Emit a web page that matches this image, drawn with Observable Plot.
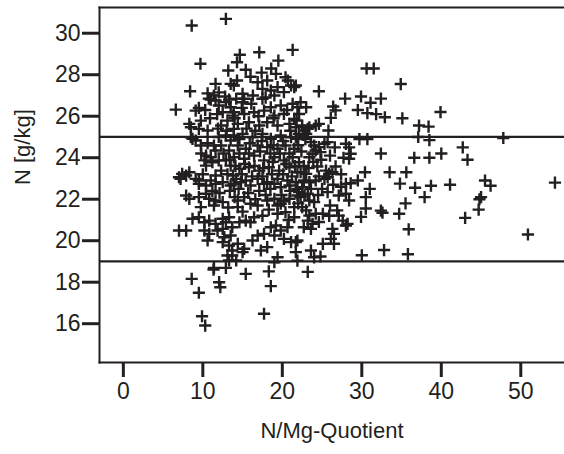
<!DOCTYPE html>
<html><head><meta charset="utf-8">
<script src="https://cdn.jsdelivr.net/npm/d3@7"></script>
<script src="https://cdn.jsdelivr.net/npm/@observablehq/plot@0.6"></script>
<style>body{margin:0;background:#fff;} #chart{width:564px;height:454px;}</style>
</head><body><div id="chart"></div>
<script>
const xTicks = [0, 10, 20, 30, 40, 50];
const yTicks = [16, 18, 20, 22, 24, 26, 28, 30];
const limits = [25, 19];
const xLabel = "N/Mg-Quotient";
const yLabel = "N [g/kg]";

// [N/Mg quotient, N g/kg]
const farRight = [[39.9,26.2],[38.4,25.5],[38.5,24.85],[47.8,24.95],[42.7,24.5],[43.3,23.9],[38.5,24.0],[40.0,24.2],[38.7,22.65],[41.1,22.7],[45.5,22.9],[46.2,22.65],[45.0,22.1],[44.8,22.0],[44.7,21.5],[43.0,21.1],[54.3,22.8],[50.9,20.3],[37.9,22.1]];
const midRight = [[30.6,28.3],[31.5,28.3],[34.9,27.55],[27.9,26.85],[29.9,26.95],[31.1,26.65],[32.4,26.85],[29.5,26.3],[30.7,26.15],[31.8,26.1],[32.9,25.95],[35.1,25.9],[37.2,25.55],[29.7,24.9],[30.7,24.9],[37.1,25.0],[32.4,24.2],[36.6,24.0],[30.4,23.3],[33.5,23.3],[35.6,23.3],[34.8,22.75],[31.0,22.5],[36.7,22.55],[30.5,22.1],[35.5,21.8],[30.5,21.55],[32.4,21.45],[32.6,21.35],[34.7,21.3],[29.9,21.15],[35.9,20.55],[30.0,19.3],[32.8,19.55],[35.8,19.35],[23.2,18.5]];
const middle = [[22.3,26.67],[23.0,26.43],[21.7,27.48],[21.3,29.2],[24.6,27.2],[26.4,26.47],[26.7,26.28],[26.1,25.92],[25.8,25.31],
[21.8,25.79],[22.5,25.55],[22.7,25.31],[23.2,25.39],[23.4,25.47],[24.2,25.55],[24.6,25.63],[22.1,25.15],[23.0,25.15],[21.7,24.99],
[23.6,24.75],[24.0,24.59],[24.2,24.35],[24.6,24.51],[24.8,24.27],[25.3,24.67],[23.8,24.19],[23.4,24.02],[25.7,24.75],
[26.6,24.5],[28.0,24.67],[28.4,24.5],[28.6,24.19],[28.4,23.95],[24.4,23.58],[26.7,23.58],
[22.3,23.3],[23.0,23.22],[22.7,22.9],[23.4,22.82],[22.5,22.58],[23.6,22.5],[22.1,22.34],[23.2,22.26],
[25.5,23.38],[25.9,23.22],[25.7,23.06],[25.3,22.98],[26.3,23.3],
[24.2,22.9],[29.5,22.9],[28.6,22.77],[28.0,22.74],[27.4,22.6],[25.7,22.34],[27.1,22.18],[28.0,22.26],[28.4,21.94],
[22.3,22.1],[23.4,21.94],[24.0,21.86],[22.5,21.62],
[26.9,21.46],[27.1,21.21],[27.6,20.97],[28.0,20.73],[28.2,20.81],[25.9,21.2],[25.1,21.3],
[23.0,21.46],[23.4,21.21],[23.2,20.97],[23.8,20.81],[22.7,20.65],[23.6,20.57],[24.2,21.3],
[26.3,20.57],[26.5,20.33],[26.1,20.09],[26.5,19.85],[25.1,19.85],[21.7,19.93],[23.6,19.53],[24.0,19.2],[24.8,19.24]];
const topMid = [[14.65,28.96],[14.3,28.6],[17.1,29.08],[19.5,28.68],[15.4,28.24],[19.2,28.04],[20.4,27.88],[20.7,27.72],[21.1,27.48],[14.3,27.72],[13.9,27.48],[16.9,27.64],[18.1,27.72],[17.5,27.32],[18.55,27.24],[19.0,27.0],[15.0,27.08],[15.2,26.84],[21.5,27.4],[20.2,27.16]];
const topLeft = [[8.6,30.37],[12.9,30.69],[9.7,28.53],[13.2,28.2],[8.4,27.2],[11.6,27.56],[13.5,27.56],[10.6,27.1],[11.4,27.0],[12.0,27.15],[12.8,26.95],[11.0,26.8],[13.3,26.8]];
const upperLeft = [[6.6,26.32],[9.1,26.27],[9.5,26.4],[8.3,25.63],[8.5,25.47],[9.75,25.79],[9.5,25.39],[10.6,25.31],[8.5,24.99],[8.7,24.91],[11.4,24.59],[11.6,24.35],[10.4,24.1],[11.0,24.02],[11.2,23.78],[10.2,23.87],[7.4,23.22],[7.9,23.14],[8.3,23.3],[7.0,23.06],[7.2,22.98],[9.1,22.98],[9.5,22.9],[10.75,26.85],[11.6,26.76],[12.0,26.52],
[12.5,26.19],[13.8,26.03],[13.1,25.79],[12.3,25.55],[13.9,25.39],[12.9,25.07],[13.5,24.83],[12.3,24.59],[13.3,24.35],[12.9,23.87],[13.5,23.62],[12.3,23.38],[13.8,23.14],[12.9,26.68],[13.5,26.43],
[9.1,24.83],[9.75,24.59],[10.4,23.62],[11.6,23.14],[11.0,22.9],[12.0,23.87]];
const lowerLeft = [[9.5,22.74],[10.4,22.66],[11.6,22.74],[12.5,22.82],[13.5,22.66],[7.9,22.18],[8.3,22.02],[9.5,22.1],[10.4,22.26],[10.8,22.02],[11.6,21.94],[11.4,21.7],[9.75,21.62],[12.5,21.86],[8.7,21.06],[9.5,21.13],[10.2,20.89],[10.8,20.97],[11.6,20.81],[12.5,21.06],[12.9,20.89],[13.3,21.13],[7.0,20.49],[7.9,20.49],[10.2,20.49],[10.8,20.33],[11.85,20.49],[12.5,20.57],[12.7,20.17],[13.5,20.25],[10.6,20.01],[12.5,19.93],[13.3,19.77],[13.7,19.53],[13.1,19.29],[13.3,19.05],[11.4,18.69],[12.9,18.69]];
const bottom = [[11.35,18.61],[8.6,18.16],[12.05,18.0],[12.2,17.76],[9.5,17.49],[9.9,16.36],[10.3,15.91],[15.4,18.4],[18.3,18.52],[18.55,17.81],[17.7,16.48]];
const lowerMid = [[13.9,22.74],[14.8,22.82],[16.0,22.66],[17.7,22.74],[19.0,22.74],[19.8,22.58],[20.9,22.66],[21.9,22.5],[21.9,22.18],[14.4,21.94],[15.2,22.1],[16.0,21.78],[14.4,21.62],[16.9,21.7],[18.1,21.94],[19.0,22.02],[19.8,21.78],[20.9,22.02],[21.5,21.62],[20.4,21.37],[19.4,21.3],[21.5,21.13],[16.45,21.13],[15.4,20.97],[14.6,20.89],[13.7,20.65],[16.0,20.89],[18.55,20.65],[19.2,20.73],[19.8,20.49],[20.65,20.65],[19.0,20.25],[17.7,20.33],[16.9,20.25],[16.25,20.01],[14.4,19.85],[20.2,20.09],[21.1,19.93],[21.9,20.01],[18.1,19.69],[17.3,19.53],[15.2,19.61],[15.0,19.45],[21.7,19.45],[19.4,19.2],[19.0,18.96],[21.9,19.04],[13.7,19.29],[14.2,19.05]];
const core = [[14.2,26.84],[15.0,26.67],[17.5,26.84],[18.55,26.43],[19.8,26.52],[21.3,26.6],[21.9,26.43],[13.9,26.19],[15.2,26.11],[16.45,26.19],[17.7,26.27],[19.0,26.03],[20.2,26.11],[21.5,25.87],[22.1,26.11],[14.4,25.63],[15.8,25.71],[17.1,25.55],[18.1,25.71],[19.4,25.55],[20.9,25.63],[21.7,25.47],[13.9,25.07],[15.0,25.15],[16.25,24.99],[17.5,25.15],[18.55,24.91],[19.8,25.07],[21.1,24.99],[21.9,24.91],[14.4,24.59],[15.4,24.43],[16.9,24.59],[18.1,24.51],[19.4,24.43],[20.4,24.59],[21.5,24.43],[13.9,24.02],[15.2,23.95],[16.45,24.1],[17.7,23.87],[19.0,24.02],[20.2,23.87],[21.3,24.02],[22.1,23.78],[14.6,23.47],[15.8,23.54],[17.1,23.38],[18.3,23.54],[19.6,23.38],[20.9,23.54],[21.9,23.3],[14.2,22.98],[15.4,22.9],[16.9,22.98],[18.1,22.82],[19.4,22.98],[20.65,22.9],[21.7,22.82]];
const coreFill = [[14.9,26.4],[16.1,26.6],[17.0,26.0],[18.9,25.9],[20.6,26.3],[21.0,25.3],[16.6,25.3],[15.5,25.4],[14.0,25.9],[13.0,25.3],[12.0,25.0],[12.6,24.2],[14.6,24.9],[15.9,24.7],[17.4,24.8],[18.9,24.6],[20.1,24.8],[22.0,24.6],[20.9,24.2],[19.7,24.2],[18.5,24.2],[17.2,24.3],[15.8,24.2],[14.6,24.2],[13.4,23.9],[14.1,23.6],[15.3,23.7],[16.5,23.6],[17.6,23.5],[18.8,23.8],[20.5,23.7],[21.6,23.6],[22.4,24.3],[13.1,23.2],[14.9,23.2],[16.2,23.1],[17.5,23.1],[18.7,23.2],[20.1,23.2],[21.2,23.1],[22.7,23.6],[13.4,22.4],[14.5,22.5],[15.7,22.3],[17.1,22.4],[18.5,22.5],[19.9,22.2],[21.0,22.4],[22.8,22.2],[14.0,22.1],[16.6,22.0],[17.9,22.2],[19.4,21.7],[20.2,21.9],[22.0,21.8],[13.2,21.6],[15.0,21.4],[17.5,21.2],[18.3,21.5],[20.8,21.0],[12.1,22.3],[11.2,22.4],[10.0,23.2],[10.6,24.7],[9.8,24.2],[11.9,25.4],[10.9,25.9],[11.8,26.1],[10.3,26.3],[16.3,27.0],[17.9,26.9],[19.4,27.4],[16.0,27.9],[17.4,28.1],[18.6,28.3],[22.6,25.1],[22.9,24.9],[23.9,23.8],[24.9,23.9],[23.3,23.5],[24.6,23.1],[25.0,22.5],[26.4,22.7],[24.5,22.2],[26.0,21.7],[24.6,20.9],[27.4,23.2],[27.7,24.0],[26.0,24.1]];

const data = [...farRight, ...midRight, ...middle, ...topMid, ...topLeft, ...upperLeft, ...lowerLeft, ...bottom, ...lowerMid, ...core, ...coreFill]
  .map(([q, n]) => ({q, n}));
const ink = "#231f20";
const font = "Liberation Sans, Arial, Helvetica, sans-serif";

const chart = Plot.plot({
  width: 564, height: 454,
  marginLeft: 99, marginRight: 0, marginTop: 7, marginBottom: 92,
  style: {fontFamily: font, fontSize: "23px", color: ink, background: "#fff"},
  x: {domain: [-3, 55.5]},
  y: {domain: [14.13, 31.24]},
  marks: [
    Plot.ruleY(limits, {stroke: ink, strokeWidth: 2.2}),
    Plot.dot(data, {x: "q", y: "n", symbol: "plus", r: 4, stroke: ink, strokeWidth: 2.4}),
    Plot.frame({anchor: "top", stroke: ink, strokeWidth: 2}),
    Plot.frame({anchor: "left", stroke: ink, strokeWidth: 2}),
    Plot.frame({anchor: "bottom", stroke: ink, strokeWidth: 2}),
    Plot.axisX({ticks: xTicks, tickSize: 15, tickPadding: 5, strokeWidth: 3, label: null, fontSize: 23}),
    Plot.axisY({ticks: yTicks, tickSize: 17, tickPadding: 2, strokeWidth: 3, label: null, fontSize: 23}),
    Plot.text([xLabel], {text: d => d, frameAnchor: "bottom", dy: 75, fill: ink, fontSize: 22}),
    Plot.text([yLabel], {text: d => d, frameAnchor: "left", dx: -77, rotate: -90, fill: ink, fontSize: 22})
  ]
});
document.getElementById("chart").appendChild(chart);
</script>
</body></html>
